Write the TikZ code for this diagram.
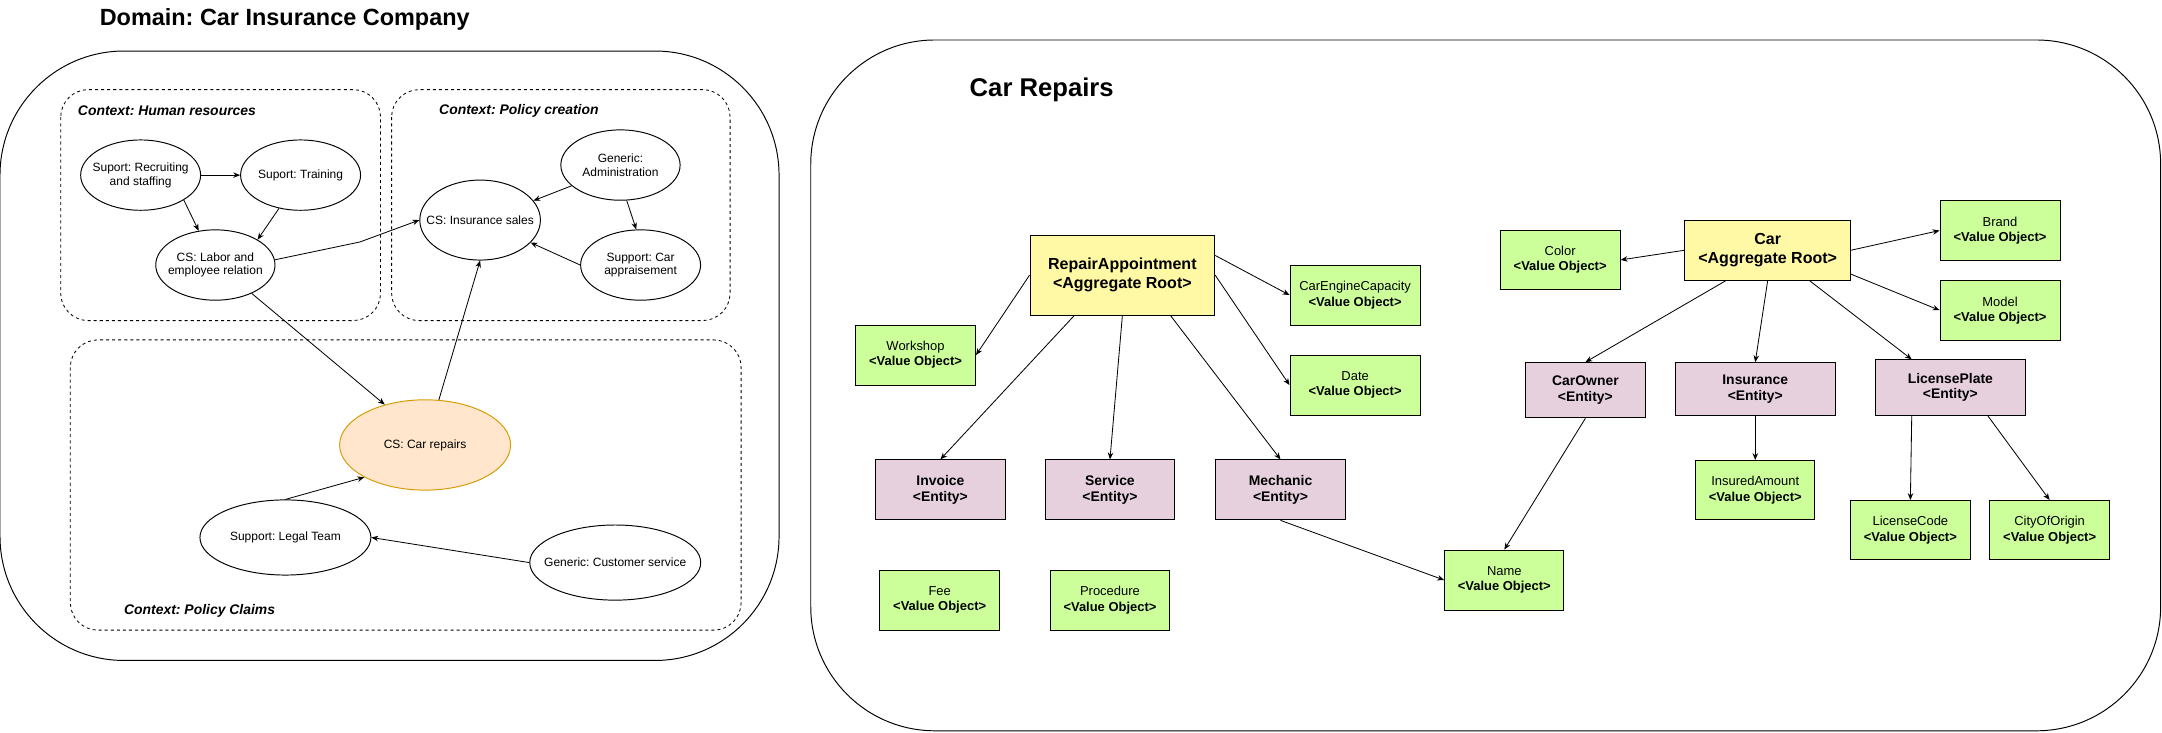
\documentclass[tikz,border=0pt]{standalone}
\usepackage{fontspec}
\setmainfont{Liberation Sans}
\usetikzlibrary{shapes.geometric,arrows.meta}
\definecolor{rootyellow}{HTML}{FFF9A6}
\definecolor{entitypink}{HTML}{E6D0DE}
\definecolor{valuegreen}{HTML}{CCFF99}
\definecolor{corefill}{HTML}{FFE6CC}
\definecolor{coreline}{HTML}{D79B00}
\frenchspacing
\tikzset{
  domainbox/.style={draw, line width=0.7pt, rounded corners=90pt},
  contextbox/.style={draw, line width=0.6pt, dash pattern=on 2.2pt off 2.2pt, rounded corners=20pt},
  contextlabel/.style={anchor=west, font=\fontsize{10.1}{12}\selectfont\bfseries\itshape},
  subdomain/.style={ellipse, draw, line width=0.7pt, inner xsep=-8pt, inner ysep=0pt, align=center,
    font=\fontsize{8.7}{9.9}\selectfont},
  aggroot/.style={draw, fill=rootyellow, line width=0.7pt, align=center,
    font=\fontsize{11.6}{13.8}\selectfont\bfseries},
  entitybox/.style={draw, fill=entitypink, line width=0.7pt, align=center, minimum width=94pt,
    minimum height=43.5pt, font=\fontsize{10.1}{11.4}\selectfont\bfseries},
  valuebox/.style={draw, fill=valuegreen, line width=0.7pt, align=center, minimum width=87pt,
    minimum height=43.5pt, font=\fontsize{9.4}{11}\selectfont},
  link/.style={-{Stealth[length=5pt,width=4pt]}, line width=0.6pt}
}
\newcommand{\vo}{\\\textbf{<Value Object>}}
\begin{document}
\begin{tikzpicture}[x=1pt, y=-1pt]
  \useasboundingbox (0,0) rectangle (1568,531);
  \node[font=\fontsize{17}{20}\selectfont\bfseries] (domaintitle) at (206.5,14) {Domain: Car Insurance Company};
  \draw[domainbox] (0,37) rectangle (565,479);
  \draw[contextbox] (44,65) rectangle (276,232.5);
  \draw[contextbox] (284,65) rectangle (529.5,232.5);
  \draw[contextbox] (51,246.5) rectangle (537.5,457);
  \node[contextlabel] (hrlabel) at (53,80.5) {Context: Human resources};
  \node[contextlabel] (pclabel) at (315,80.5) {Context: Policy creation};
  \node[contextlabel] (claimlabel) at (86.5,443) {Context: Policy Claims};

  \node[subdomain, minimum width=87pt, minimum height=51pt] (recruit) at (102,127) {Suport: Recruiting\\and staffing};
  \node[subdomain, minimum width=87pt, minimum height=51pt] (training) at (218,127) {Suport: Training};
  \node[subdomain, minimum width=86.5pt, minimum height=51pt] (labor) at (156.2,192.2) {CS: Labor and\\employee relation};
  \node[subdomain, minimum width=86.5pt, minimum height=58pt] (sales) at (348.2,159.6) {CS: Insurance sales};
  \node[subdomain, minimum width=86.5pt, minimum height=51pt] (admin) at (450,119.7) {Generic:\\Administration};
  \node[subdomain, minimum width=87pt, minimum height=51pt] (appraise) at (464.6,192.2) {Support: Car\\appraisement};
  \node[subdomain, minimum width=124pt, minimum height=65.5pt, fill=corefill, draw=coreline] (repairs) at (308.3,322.7) {CS: Car repairs};
  \node[subdomain, minimum width=124pt, minimum height=54.5pt] (legal) at (207,389.8) {Support: Legal Team};
  \node[subdomain, minimum width=124pt, minimum height=54.5pt] (custsrv) at (446.2,408) {Generic: Customer service};

  \coordinate (laborbend) at (261,175.5);
  \draw[link] (recruit.east) -- (training.west);
  \draw[link] (recruit.-30) -- (labor.116);
  \draw[link] (training.237) -- (labor.31);
  \draw[link] (labor.5) -- (laborbend) -- (sales.west);
  \draw[link] (admin.203) -- (sales.20);
  \draw[link] (admin.-80) -- (appraise.97);
  \draw[link] (appraise.west) -- (sales.-24);
  \draw[link] (labor.-38) -- (repairs.135);
  \draw[link] (repairs.73) -- (sales.south);
  \draw[link] (legal.north) -- (repairs.208);
  \draw[link] (custsrv.west) -- (legal.east);

  \draw[domainbox] (588,29) rectangle (1567,530);
  \node[font=\fontsize{18.6}{22}\selectfont\bfseries] (repairtitle) at (755.5,65.3) {Car Repairs};

  \node[aggroot, minimum width=134pt, minimum height=58pt] (appointment) at (814,199.6) {RepairAppointment\\<Aggregate Root>};
  \node[valuebox] (workshop) at (664,257.5) {Workshop\vo};
  \node[valuebox, minimum width=94.4pt] (engine) at (982.8,214) {CarEngineCapacity\vo};
  \node[valuebox, minimum width=94.4pt] (date) at (982.8,279.3) {Date\vo};
  \node[entitybox] (invoice) at (682,355.3) {Invoice\\<Entity>};
  \node[entitybox] (service) at (805,355.3) {Service\\<Entity>};
  \node[entitybox] (mechanic) at (928.7,355.3) {Mechanic\\<Entity>};
  \node[valuebox] (fee) at (681.5,435.2) {Fee\vo};
  \node[valuebox] (procedure) at (805,435.2) {Procedure\vo};
  \node[valuebox, minimum width=86.5pt] (name) at (1091,420.7) {Name\vo};

  \node[aggroot, minimum width=120pt, minimum height=43.5pt] (car) at (1282,181.5) {Car\\<Aggregate Root>};
  \node[valuebox, minimum height=43pt] (color) at (1131.5,188.5) {Color\vo};
  \node[valuebox] (brand) at (1450.5,167.2) {Brand\vo};
  \node[valuebox] (model) at (1450.5,225) {Model\vo};
  \node[entitybox, minimum width=86.5pt, minimum height=40pt] (owner) at (1149.8,283) {CarOwner\\<Entity>};
  \node[entitybox, minimum width=116pt, minimum height=38pt] (insurance) at (1273,282) {Insurance\\<Entity>};
  \node[entitybox, minimum width=109pt, minimum height=40pt] (plate) at (1414.5,281) {LicensePlate\\<Entity>};
  \node[valuebox, minimum width=86pt, minimum height=43pt] (insured) at (1273,355.5) {InsuredAmount\vo};
  \node[valuebox, minimum height=43pt] (licensecode) at (1385.5,384.5) {LicenseCode\vo};
  \node[valuebox, minimum height=43pt] (origin) at (1486.5,384.5) {CityOfOrigin\vo};

  \draw[link] (appointment.west) -- (workshop.east);
  \draw[link] (appointment.12) -- (engine.west);
  \draw[link] (appointment.east) -- (date.west);
  \draw[link] (appointment.220) -- (invoice.north);
  \draw[link] (appointment.south) -- (service.north);
  \draw[link] (appointment.-40) -- (mechanic.north);
  \draw[link] (mechanic.south) -- (name.west);

  \draw[link] (car.west) -- (color.east);
  \draw[link] (car.east) -- (brand.west);
  \draw[link] (car.-16.5) -- (model.west);
  \draw[link] (car.216) -- (owner.north);
  \draw[link] (car.south) -- (insurance.north);
  \draw[link] (car.-36.5) -- (plate.144);
  \draw[link] (owner.south) -- (name.north);
  \draw[link] (insurance.south) -- (insured.north);
  \draw[link] (plate.216) -- (licensecode.north);
  \draw[link] (plate.-37) -- (origin.north);
\end{tikzpicture}
\end{document}
